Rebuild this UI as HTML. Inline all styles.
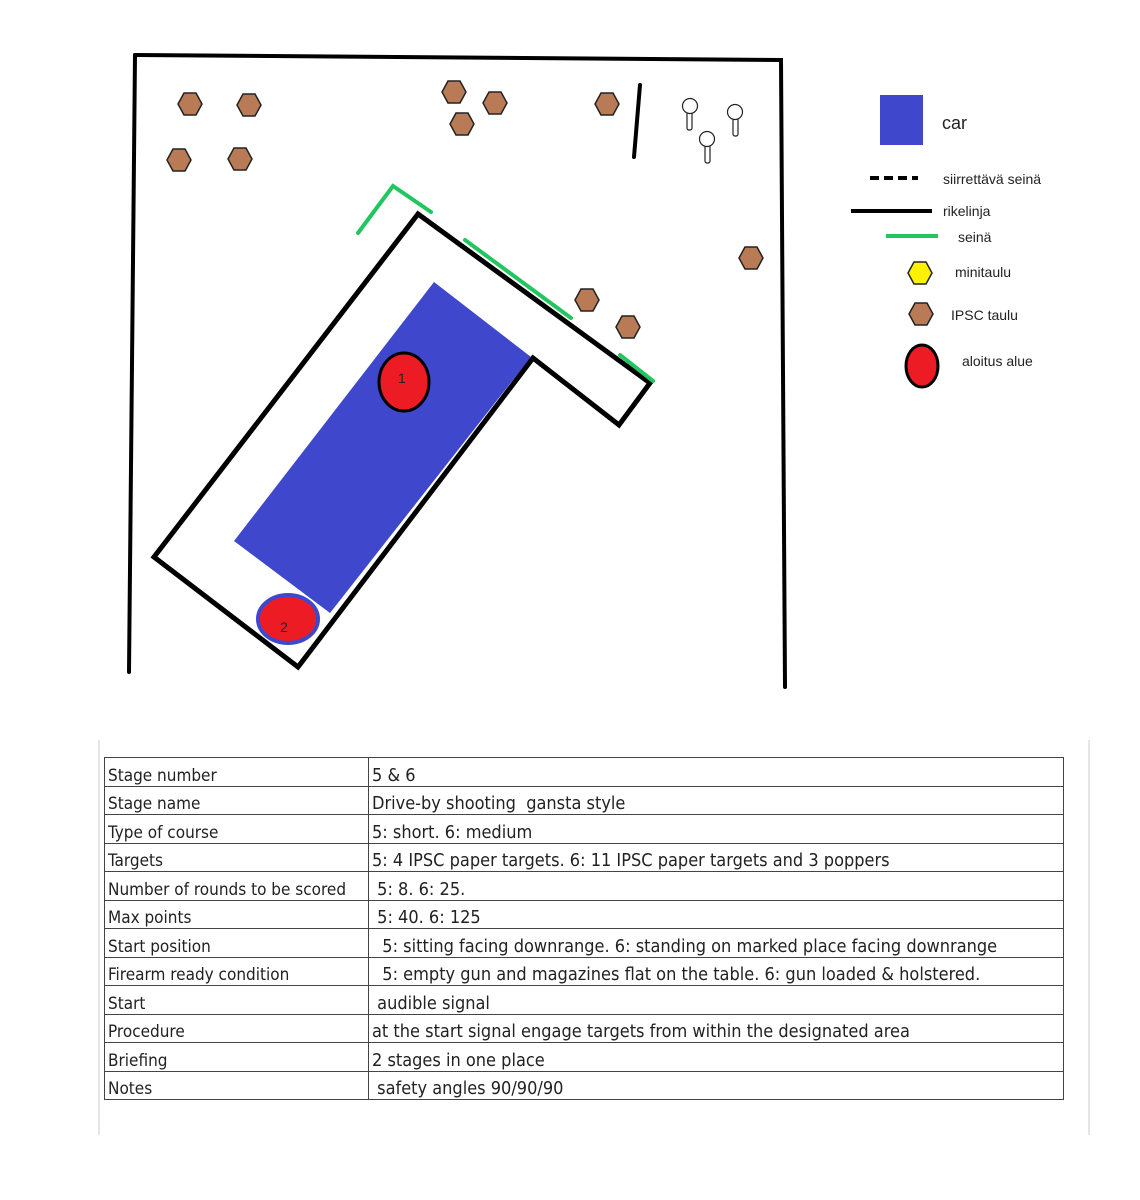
<!DOCTYPE html>
<html><head><meta charset="utf-8"><style>
body{margin:0;background:#fff;width:1140px;height:1200px;position:relative;overflow:hidden;font-family:"Liberation Sans",sans-serif}
svg{position:absolute;left:0;top:0}
table{position:absolute;left:104px;top:757px;width:960px;border-collapse:collapse;font-family:"DejaVu Sans Condensed","Liberation Sans",sans-serif;font-size:17px;color:#222}
td{border:1.5px solid #444;height:27.5px;padding:0 3px;vertical-align:bottom;line-height:20px}
td:first-child{width:257px}
td+td{font-size:18px}
</style></head><body>
<svg width="1140" height="1200" viewBox="0 0 1140 1200">
<defs><polygon id="h" points="-6,-11 6,-11 12,0 6,11 -6,11 -12,0" fill="#b97a56" stroke="#222" stroke-width="1.5"/></defs>
<g stroke="#000" stroke-width="4" fill="none" stroke-linecap="round">
<path d="M135,55 L781,60 L785,687"/><path d="M135,55 L129,672"/>
<path d="M640,85 L634,157"/>
</g>
<polygon points="434,282 531,357 330,613 234,541" fill="#3f48cc"/>
<polygon points="154,557 418,214 650,383 619,425 533,358 298,667" fill="none" stroke="#000" stroke-width="5" stroke-linejoin="miter"/>
<g stroke="#22c55e" stroke-width="4" fill="none" stroke-linecap="round">
<path d="M358,233 L393,186 L431,212"/><path d="M465,240 L571,318"/><path d="M620,355 L653,381"/>
</g>
<ellipse cx="404" cy="382" rx="25" ry="29" fill="#ed1c24" stroke="#000" stroke-width="3"/>
<text x="398" y="383" font-size="14" fill="#222">1</text>
<ellipse cx="288" cy="619" rx="30" ry="24" fill="#ed1c24" stroke="#3f48cc" stroke-width="4"/>
<text x="280" y="632" font-size="14" fill="#222">2</text>
<use href="#h" x="190" y="104"/><use href="#h" x="249" y="105"/><use href="#h" x="179" y="160"/><use href="#h" x="240" y="159"/>
<use href="#h" x="454" y="92"/><use href="#h" x="495" y="103"/><use href="#h" x="462" y="124"/><use href="#h" x="607" y="104"/>
<use href="#h" x="751" y="258"/><use href="#h" x="587" y="300"/><use href="#h" x="628" y="327"/>
<use href="#h" x="921" y="314"/>
<g fill="#fff" stroke="#222" stroke-width="1.2">
<rect x="687" y="112" width="5" height="18" rx="2"/><circle cx="690" cy="106" r="7.5"/>
<rect x="705" y="145" width="5" height="18" rx="2"/><circle cx="707" cy="139" r="7.5"/>
<rect x="733" y="118" width="5" height="18" rx="2"/><circle cx="735" cy="112" r="7.5"/>
</g>
<rect x="880" y="95" width="43" height="50" fill="#3f48cc"/>
<path d="M870,178 L918,178" stroke="#000" stroke-width="4" stroke-dasharray="9,5"/>
<path d="M851,211 L932,211" stroke="#000" stroke-width="4"/>
<path d="M886,236 L938,236" stroke="#22c55e" stroke-width="4"/>
<polygon points="914,262 926,262 932,273 926,284 914,284 908,273" fill="#fff200" stroke="#222" stroke-width="1.5"/>
<ellipse cx="922" cy="366" rx="16" ry="21" fill="#ed1c24" stroke="#000" stroke-width="3"/>
<g font-size="14" fill="#222">
<text x="942" y="129" font-size="18">car</text>
<text x="943" y="184">siirrettävä seinä</text>
<text x="943" y="216">rikelinja</text>
<text x="958" y="242">seinä</text>
<text x="955" y="277">minitaulu</text>
<text x="951" y="320">IPSC taulu</text>
<text x="962" y="366">aloitus alue</text>
</g>
<path d="M99,740 V1135 M1089,740 V1135" stroke="#ccc" stroke-width="1"/>
</svg>
<table>
<tr><td>Stage number</td><td>5 &amp; 6</td></tr>
<tr><td>Stage name</td><td>Drive-by shooting&nbsp; gansta style</td></tr>
<tr><td>Type of course</td><td>5: short. 6: medium</td></tr>
<tr><td>Targets</td><td>5: 4 IPSC paper targets. 6: 11 IPSC paper targets and 3 poppers</td></tr>
<tr><td>Number of rounds to be scored</td><td>&nbsp;5: 8. 6: 25.</td></tr>
<tr><td>Max points</td><td>&nbsp;5: 40. 6: 125</td></tr>
<tr><td>Start position</td><td>&nbsp;&nbsp;5: sitting facing downrange. 6: standing on marked place facing downrange</td></tr>
<tr><td>Firearm ready condition</td><td>&nbsp;&nbsp;5: empty gun and magazines flat on the table. 6: gun loaded &amp; holstered.</td></tr>
<tr><td>Start</td><td>&nbsp;audible signal</td></tr>
<tr><td>Procedure</td><td>at the start signal engage targets from within the designated area</td></tr>
<tr><td>Briefing</td><td>2 stages in one place</td></tr>
<tr><td>Notes</td><td>&nbsp;safety angles 90/90/90</td></tr>
</table>
</body></html>
